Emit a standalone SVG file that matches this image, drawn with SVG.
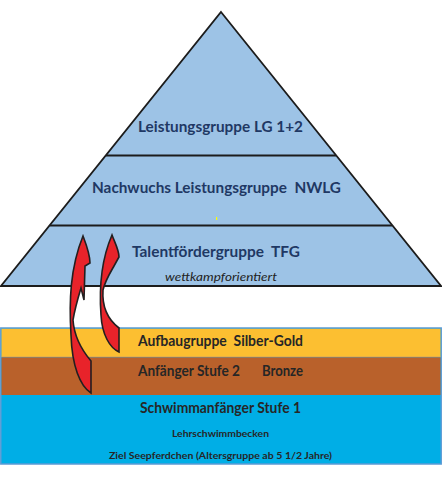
<svg xmlns="http://www.w3.org/2000/svg" width="442" height="477" viewBox="0 0 442 477">
<style>
text{white-space:pre}
.pt{font-family:Lato,"Open Sans","Liberation Sans",sans-serif;font-weight:bold;font-size:15px;fill:#1F3864}
.bt{font-family:Lato,"Open Sans","Liberation Sans",sans-serif;font-weight:bold;font-size:15px;fill:#262626}
.st{font-family:Lato,"Open Sans","Liberation Sans",sans-serif;font-weight:bold;font-size:10px;fill:#262626}
.it{font-family:Lato,"Open Sans","Liberation Sans",sans-serif;font-style:italic;font-size:11.5px;fill:#222}
.sep{stroke:#1c1c1c;stroke-width:2}
.arrow{fill:#E8232A;stroke:#231F20;stroke-width:1.6;stroke-linejoin:miter}
</style>
<rect width="442" height="477" fill="#fff"/>
<g id="pyramid">
<polygon points="221,12 441,286 1,286" fill="#9DC3E6" stroke="#1c1c1c" stroke-width="1.8" stroke-linejoin="miter"/>
</g>
<g id="lg">
<line class="sep" x1="106" y1="155.5" x2="336" y2="155.5"/>
<text class="pt" x="138" y="132" textLength="165" lengthAdjust="spacingAndGlyphs">Leistungsgruppe LG 1+2</text>
</g>
<g id="nwlg">
<line class="sep" x1="50" y1="225.5" x2="392" y2="225.5"/>
<text class="pt" x="92" y="193" textLength="249" lengthAdjust="spacingAndGlyphs" xml:space="preserve">Nachwuchs Leistungsgruppe  NWLG</text>
<rect x="216" y="217" width="1.2" height="3" fill="#ffff00"/>
</g>
<g id="tfg">
<text class="pt" x="132" y="257" textLength="168" lengthAdjust="spacingAndGlyphs" xml:space="preserve">Talentfördergruppe  TFG</text>
<text class="it" x="165" y="281" textLength="112" lengthAdjust="spacingAndGlyphs">wettkampforientiert</text>
</g>
<g id="bands">
<rect x="0.8" y="328" width="440.4" height="136" fill="#00AEE6" stroke="#5B9BD5" stroke-width="1.5"/>
</g>
<g id="aufbau">
<rect x="1.5" y="328.8" width="439" height="28.2" fill="#FCBF31"/>
<line x1="1.5" y1="357" x2="440.5" y2="357" stroke="#c9a070" stroke-width="0.8"/>
<text class="bt" x="138" y="346" textLength="165" lengthAdjust="spacingAndGlyphs" xml:space="preserve">Aufbaugruppe  Silber-Gold</text>
</g>
<g id="anfaenger">
<rect x="1.5" y="357.4" width="439" height="37.6" fill="#B9612B"/>
<text class="bt" y="376"><tspan x="138" textLength="102" lengthAdjust="spacingAndGlyphs">Anfänger Stufe 2</tspan><tspan x="262" textLength="41" lengthAdjust="spacingAndGlyphs">Bronze</tspan></text>
</g>
<g id="schwimm">
<text class="bt" x="140" y="413" textLength="161" lengthAdjust="spacingAndGlyphs">Schwimmanfänger Stufe 1</text>
<text class="st" x="172" y="437" textLength="97" lengthAdjust="spacingAndGlyphs">Lehrschwimmbecken</text>
<text class="st" x="109" y="459" textLength="223" lengthAdjust="spacingAndGlyphs">Ziel Seepferdchen (Altersgruppe ab 5 1/2 Jahre)</text>
</g>
<g id="connectors">
<path class="arrow" d="M83,236 C86,244 90,254 90,263 L85,266 L84,300 L81,288 C78,298 75,308 73,320 C74,335 80,348 91,361 L91,393 C80,386 72,366 71,335 C69,302 70,268 83,236 Z"/>
<path class="arrow" d="M112,235 C115,243 119,250 119,257 L114,266 C110,273 105,281 103,290 C102,305 106,318 119,328 L119,352 C110,348 102,335 101,315 C99,287 102,258 112,235 Z"/>
</g>
</svg>
